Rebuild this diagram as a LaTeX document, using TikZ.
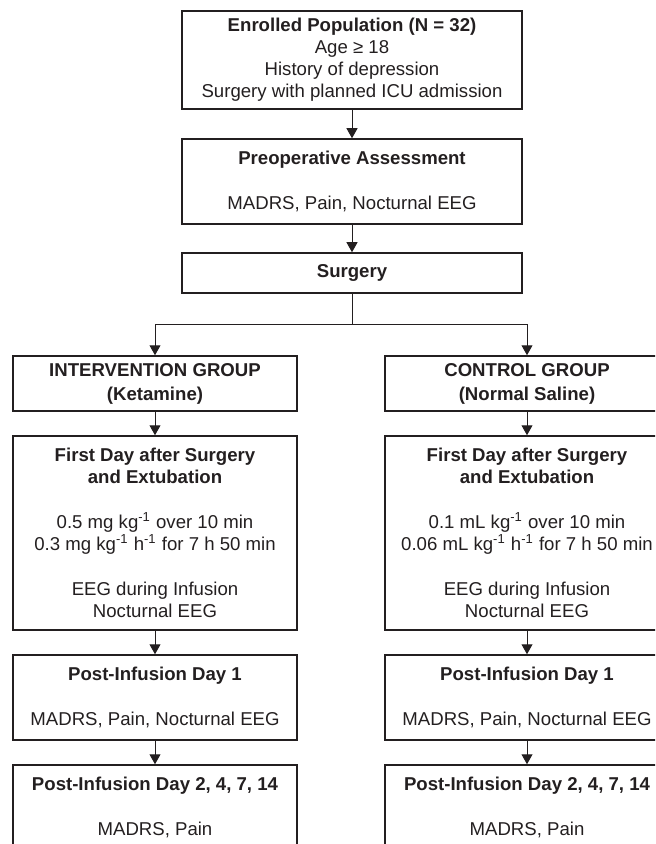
\documentclass[tikz,border=0pt]{standalone}
\usepackage{fontspec}
\setmainfont{Liberation Sans}
\usetikzlibrary{arrows.meta}
\definecolor{ink}{RGB}{35,31,32}
\tikzset{
  box/.style={draw=ink, text=ink, line width=0.75pt, inner sep=0pt, align=center,
    font=\fontsize{9.3}{11}\selectfont},
  wide/.style={box, minimum width=170pt},
  col/.style={box, minimum width=142pt},
  arr/.style={draw=ink, line width=0.5pt, -{Triangle[length=5pt,width=5.5pt]}}
}
\newcommand{\gap}{\\[11.5pt]}
\newcommand{\inv}{\textsuperscript{-1}}
\begin{document}
\begin{tikzpicture}[x=0.5pt,y=-0.5pt]
\useasboundingbox (0,0) rectangle (655,844);
\clip (0,0) rectangle (655,844);
\node [wide,minimum height=49pt] (enrolled) at (352,60) {\textbf{Enrolled Population (N = 32)}\\Age ≥ 18\\History of depression\\Surgery with planned ICU admission};
\node [wide,minimum height=42.5pt] (preop) at (352,181.5) {\textbf{Preoperative Assessment}\gap MADRS, Pain, Nocturnal EEG};
\node [wide,minimum height=20pt] (surgery) at (352,273) {\textbf{Surgery}};
\coordinate (split) at (352,324);
\node [col,minimum height=27.5pt] (ketamine) at (155,383.5) {\textbf{INTERVENTION GROUP}\\[1pt]\textbf{(Ketamine)}};
\node [col,minimum height=27.5pt] (saline) at (527,383.5) {\textbf{CONTROL GROUP}\\[1pt]\textbf{(Normal Saline)}};
\node [col,minimum height=97pt] (firstK) at (155,533) {\textbf{First Day after Surgery}\\\textbf{and Extubation}\gap 0.5 mg kg\inv{} over 10 min\\0.3 mg kg\inv{} h\inv{} for 7 h 50 min\gap EEG during Infusion\\Nocturnal EEG};
\node [col,minimum height=97pt] (firstS) at (527,533) {\textbf{First Day after Surgery}\\\textbf{and Extubation}\gap 0.1 mL kg\inv{} over 10 min\\0.06 mL kg\inv{} h\inv{} for 7 h 50 min\gap EEG during Infusion\\Nocturnal EEG};
\node [col,minimum height=42.5pt] (dayoneK) at (155,697.5) {\textbf{Post-Infusion Day 1}\gap MADRS, Pain, Nocturnal EEG};
\node [col,minimum height=42.5pt] (dayoneS) at (527,697.5) {\textbf{Post-Infusion Day 1}\gap MADRS, Pain, Nocturnal EEG};
\node [col,minimum height=42.5pt] (laterK) at (155,807.5) {\textbf{Post-Infusion Day 2, 4, 7, 14}\gap MADRS, Pain};
\node [col,minimum height=42.5pt] (laterS) at (527,807.5) {\textbf{Post-Infusion Day 2, 4, 7, 14}\gap MADRS, Pain};
\draw [arr] (enrolled) -- (preop);
\draw [arr] (preop) -- (surgery);
\draw [draw=ink,line width=0.5pt] (surgery.south) -- (split);
\draw [arr] (split) -| (ketamine.north);
\draw [arr] (split) -| (saline.north);
\draw [arr] (ketamine) -- (firstK);
\draw [arr] (saline) -- (firstS);
\draw [arr] (firstK) -- (dayoneK);
\draw [arr] (firstS) -- (dayoneS);
\draw [arr] (dayoneK) -- (laterK);
\draw [arr] (dayoneS) -- (laterS);
\end{tikzpicture}
\end{document}
